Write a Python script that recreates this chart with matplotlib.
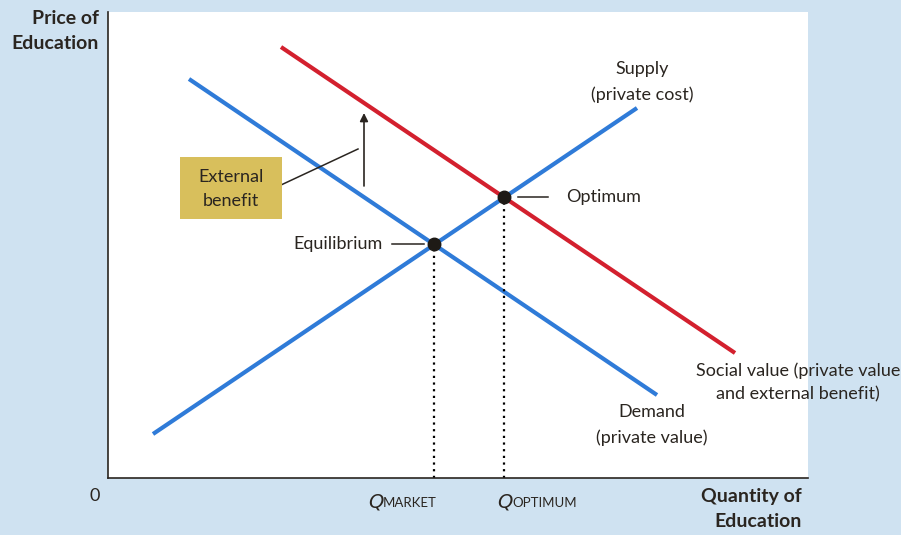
import matplotlib
matplotlib.use("Agg")
import matplotlib.pyplot as plt
from matplotlib.patches import Rectangle

# Data (units: arbitrary quantity / price scale)
demand_x = [81, 549]
demand_y = [399, 83]
supply_x = [45, 529]
supply_y = [44, 370]
social_x = [173, 627]
social_y = [431, 125]
equilibrium = (326, 234)
optimum = (396, 281)
arrow_x = 256
arrow_y = [292, 365]

BG = "#cfe2f1"
BLUE = "#2f7bd8"
RED = "#d3202e"
TXT = "#2a2520"
FONT = "Lato"

fig = plt.figure(figsize=(9.01, 5.35), dpi=100, facecolor=BG)
ax = fig.add_axes([108/901, (535-478)/535, 700/901, 466/535])
ax.set_facecolor("white")
ax.set_xlim(0, 700)
ax.set_ylim(0, 466)
for s in ["top", "right"]:
    ax.spines[s].set_visible(False)
for s in ["left", "bottom"]:
    ax.spines[s].set_color(TXT)
    ax.spines[s].set_linewidth(1.2)
ax.set_xticks([])
ax.set_yticks([])

ax.plot(demand_x, demand_y, color=BLUE, lw=3, solid_capstyle="butt")
ax.plot(supply_x, supply_y, color=BLUE, lw=3, solid_capstyle="butt")
ax.plot(social_x, social_y, color=RED, lw=3, solid_capstyle="butt")

for (px, py) in [equilibrium, optimum]:
    ax.plot([px, px], [0, py], color="black", lw=1.6, ls=(0, (1, 2)))
    ax.plot(px, py, "o", color="#1e1a16", ms=9, zorder=5)

# external benefit arrow
ax.annotate("", xy=(arrow_x, arrow_y[1]), xytext=(arrow_x, arrow_y[0]),
            arrowprops=dict(arrowstyle="-|>", color=TXT, lw=1.2,
                            mutation_scale=12, shrinkA=0, shrinkB=0))

# External benefit box
ax.add_patch(Rectangle((72, 259), 102, 62, facecolor="#d8bf5c",
                       edgecolor="none", clip_on=False, zorder=3))
ax.text(123, 289, "External\nbenefit", ha="center", va="center", fontsize=13,
        color=TXT, family=FONT, linespacing=1.6, zorder=4)
ax.plot([173, 250], [293, 329], color=TXT, lw=1.1, zorder=2)

# labels
tk = dict(fontsize=13, color=TXT, family=FONT)
ax.text(275, equilibrium[1], "Equilibrium", ha="right", va="center", **tk)
ax.plot([284, 316], [equilibrium[1]] * 2, color=TXT, lw=1.1)
ax.text(458, optimum[1], "Optimum", ha="left", va="center", **tk)
ax.plot([410, 440], [optimum[1]] * 2, color=TXT, lw=1.1)
ax.text(534, 396, "Supply\n(private cost)", ha="center", va="center",
        linespacing=1.65, **tk)
ax.text(544, 53, "Demand\n(private value)", ha="center", va="center",
        linespacing=1.65, **tk)
ax.text(690, 96, "Social value (private value\nand external benefit)",
        ha="center", va="center", linespacing=1.55, clip_on=False, **tk)

# axis titles
fig.text(99/901, 1 - 10/535, "Price of\nEducation", ha="right", va="top",
         fontsize=14, fontweight="bold", color=TXT, family=FONT, linespacing=1.6)
fig.text(802/901, 1 - 488/535, "Quantity of\nEducation", ha="right", va="top",
         fontsize=14, fontweight="bold", color=TXT, family=FONT, linespacing=1.6)
fig.text(95/901, 1 - 496/535, "0", ha="center", va="center", fontsize=13,
         color=TXT, family=FONT)

# Q labels
for (qx, sub) in [(368, "MARKET"), (497, "OPTIMUM")]:
    fig.text(qx/901, 1 - 507/535, "Q", ha="left", va="baseline", fontsize=14,
             style="italic", color=TXT, family="DejaVu Sans")
    fig.text((qx + 15)/901, 1 - 507/535, sub, ha="left", va="baseline",
             fontsize=9.5, color=TXT, family=FONT)

fig.savefig("out.png", dpi=100, facecolor=BG)
